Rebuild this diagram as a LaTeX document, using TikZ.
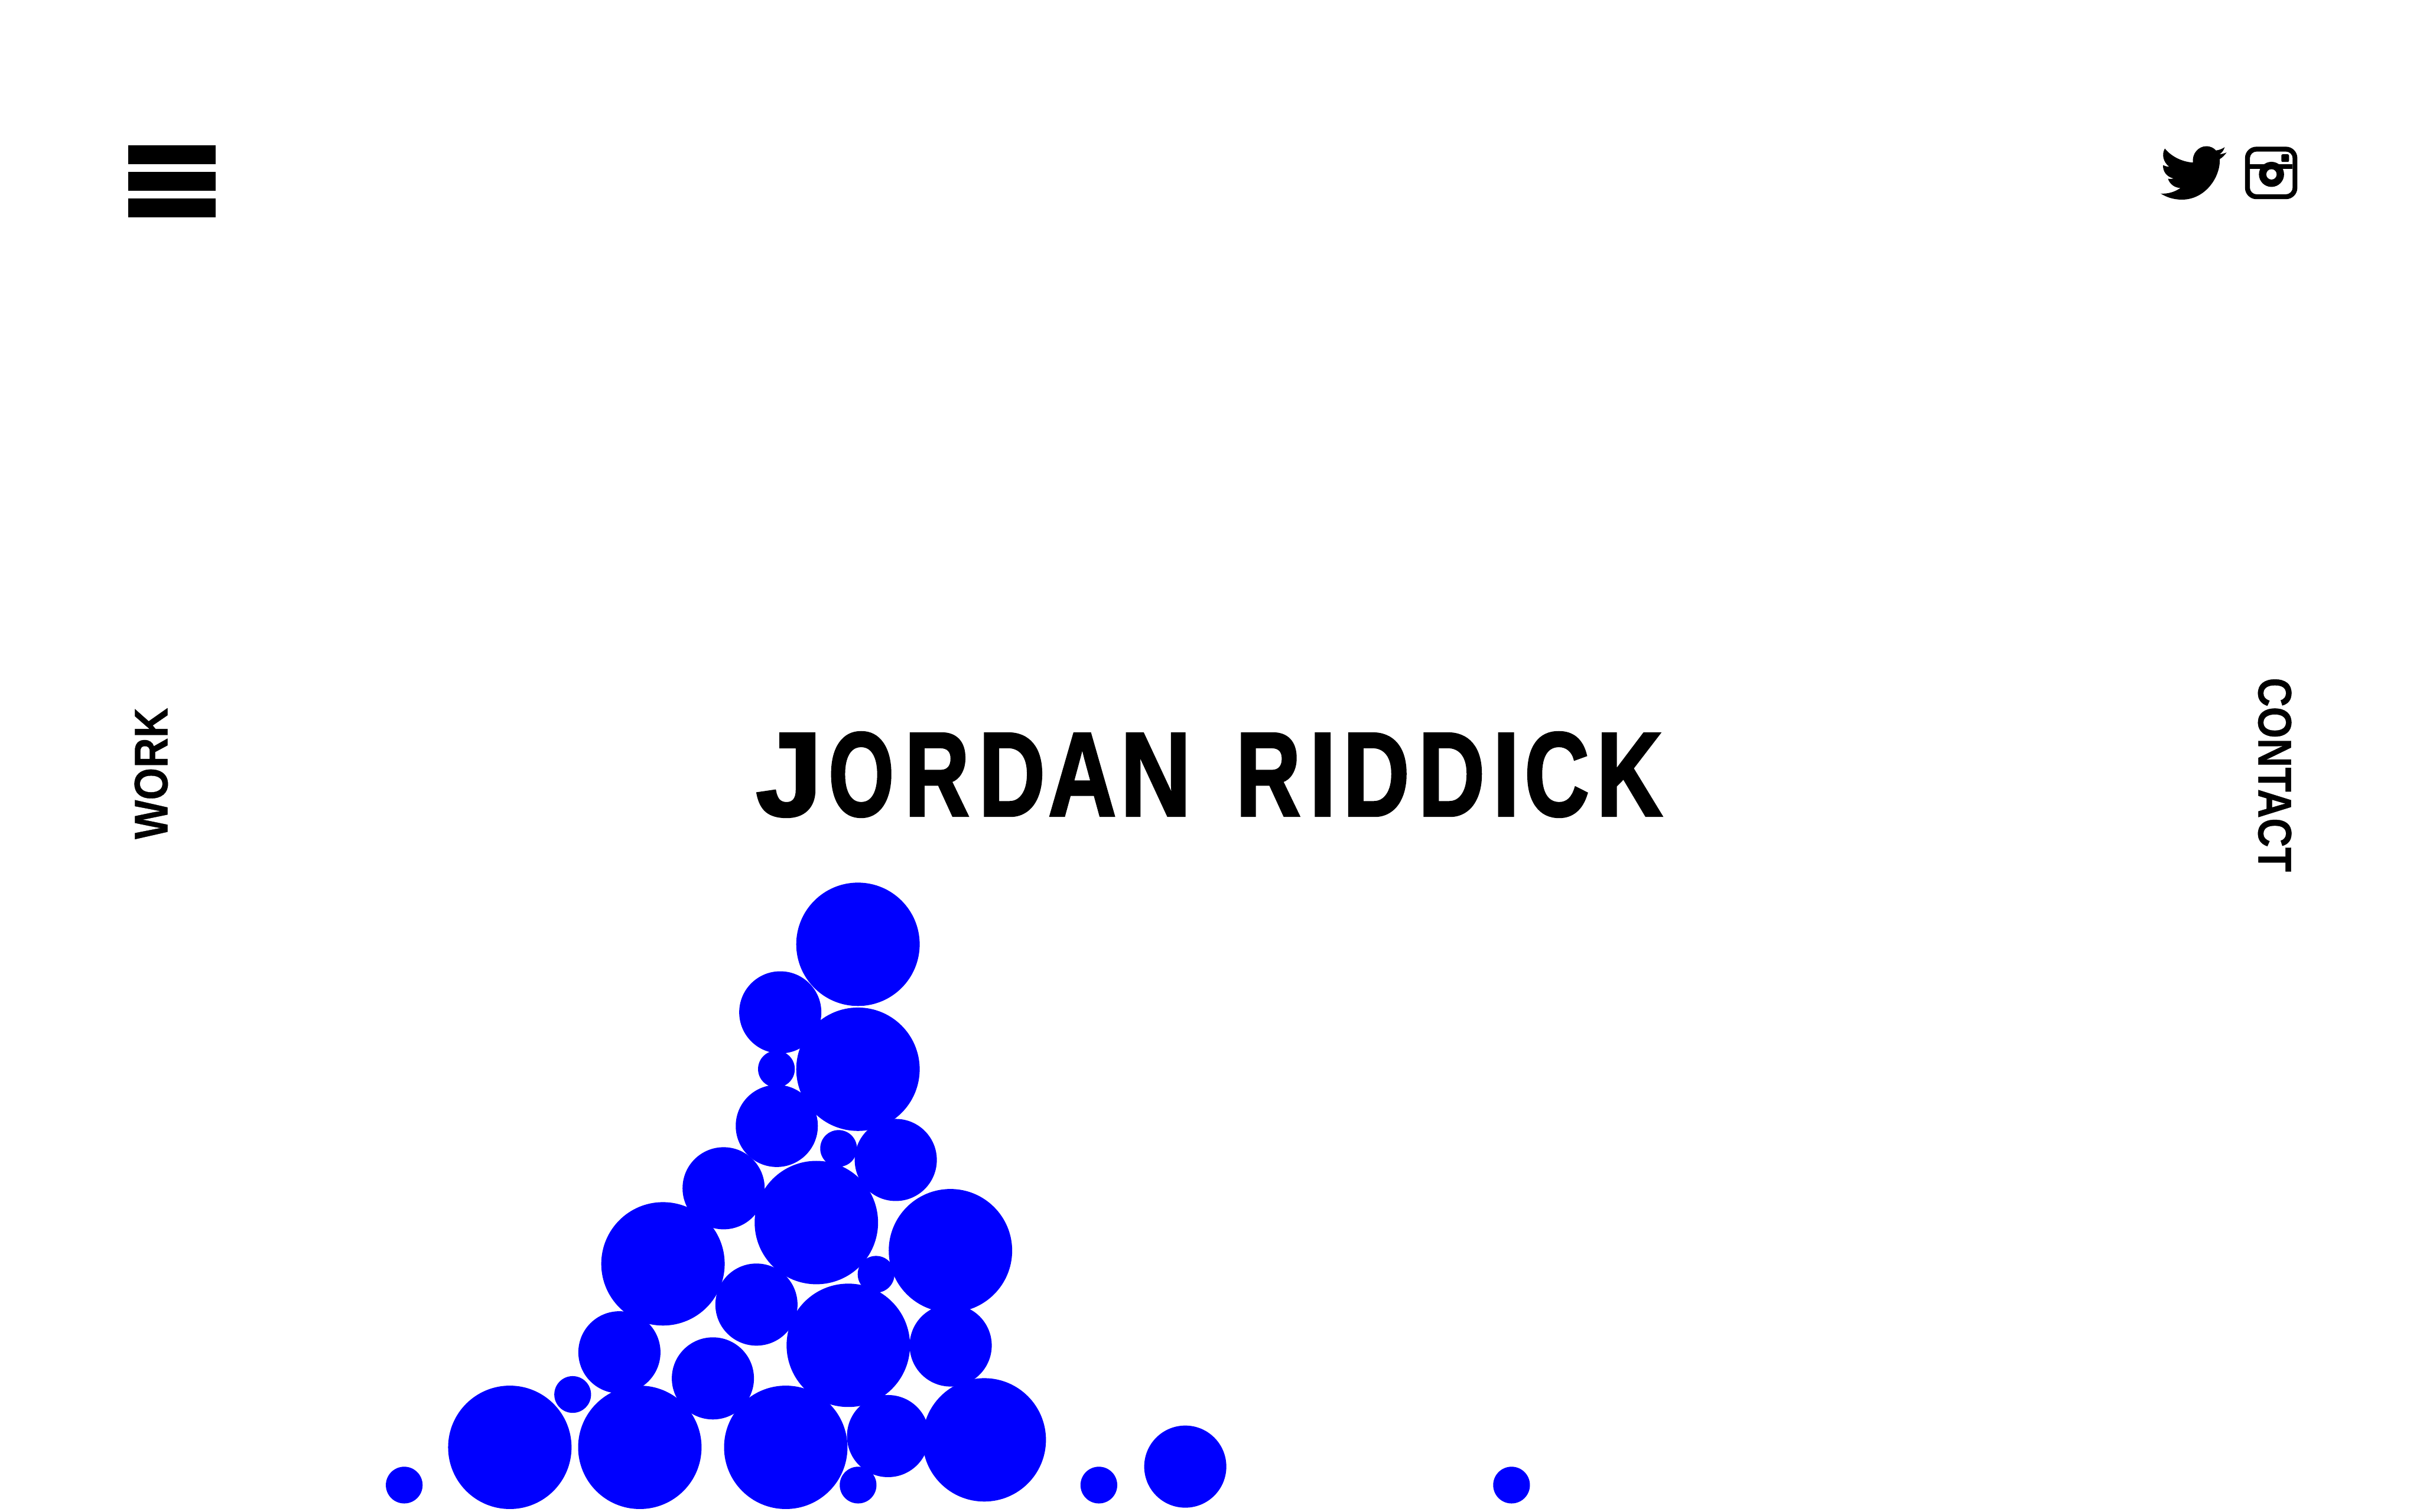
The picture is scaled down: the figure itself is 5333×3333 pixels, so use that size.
\documentclass[tikz,border=0pt]{standalone}
\usepackage{fontspec}
\setmainfont{Liberation Sans}[BoldFeatures={FakeBold=0.5}]
\newfontfamily\titlefont{Liberation Sans}[BoldFeatures={FakeBold=2.2}]
\definecolor{pureblue}{RGB}{0,0,255}
% one title letter: centre in px from the title origin, horizontal scale, glyph
\newcommand\ltr[3]{\rlap{\hskip\dimexpr #1pt/10\relax\makebox[0pt][c]{\scalebox{#2}[1]{#3}}}}
\tikzset{
  blob/.style={fill=pureblue},
  ink/.style={fill=black},
  titletext/.style={inner sep=0pt,outer sep=0pt,anchor=base west,font=\titlefont\bfseries\fontsize{26.3}{30}\selectfont},
  sidetext/.style={inner sep=0pt,outer sep=0pt,anchor=base west,font=\bfseries\fontsize{10.4}{12}\selectfont},
}
\begin{document}
\begin{tikzpicture}[x=0.1pt,y=-0.1pt]
\useasboundingbox (0,0) rectangle (5333,3333);
\fill[white] (0,0) rectangle (5333,3333);
% hamburger
\fill[ink] (283,320) rectangle (475,362);
\fill[ink] (283,379) rectangle (475,421);
\fill[ink] (283,437) rectangle (475,479);
% twitter bird
\begin{scope}[shift={(4720,290)},scale=0.33333]
\fill[ink] (152,112) .. controls (195,165) and (265,200) .. (338,205)
 .. controls (330,145) and (375,97) .. (425,97)
 .. controls (455,97) and (475,108) .. (490,125)
 .. controls (512,122) and (530,115) .. (548,103)
 .. controls (540,125) and (530,140) .. (513,150)
 .. controls (530,148) and (545,145) .. (560,138)
 .. controls (548,155) and (535,170) .. (515,182)
 .. controls (520,300) and (420,450) .. (265,450)
 .. controls (210,450) and (165,435) .. (125,410)
 .. controls (175,413) and (220,398) .. (255,373)
 .. controls (215,372) and (183,345) .. (173,312)
 .. controls (185,314) and (198,314) .. (210,310)
 .. controls (165,300) and (138,265) .. (140,222)
 .. controls (152,228) and (165,232) .. (180,232)
 .. controls (140,200) and (130,150) .. (152,112) -- cycle;
% instagram
\fill[ink,even odd rule] [rounded corners=2.5pt] (682,100) rectangle (1028,447)
  [rounded corners=1.5pt] (714,132) rectangle (997,415);
\fill[ink] (714,216) rectangle (997,247);
\fill[ink] (857,283) circle (83);
\fill[white] (857,283) circle (34);
\fill[ink,rounded corners=0.3pt] (922,150) rectangle (973,201);
\end{scope}
% side labels
\node[sidetext,rotate=90] (work) at (369,1850) {\scalebox{0.88}[1]{WORK}};
\node[sidetext,rotate=-90] (contact) at (4977,1494) {\scalebox{0.855}[1]{CONTACT}};
% title
\node[titletext] (title) at (1667,1798) {\ltr{67}{1.0}{J}\ltr{226}{0.705}{O}\ltr{393}{0.75}{R}\ltr{558}{0.77}{D}\ltr{713}{0.79}{A}\ltr{875}{0.82}{N}\rlap{\ }\ltr{1123}{0.75}{R}\ltr{1243}{0.8}{I}\ltr{1361}{0.77}{D}\ltr{1527}{0.77}{D}\ltr{1647}{0.8}{I}\ltr{1759}{0.75}{C}\ltr{1919}{0.76}{K}\hskip 199.7pt};
% circles
\foreach \cx/\cy/\r in {
 1890.7/2081.6/136, 1890.7/2357/136, 1799/2695/136, 2094.5/2757/136, 1461/2786/136,
 1869.4/2965.6/136, 1123.5/3190.5/136, 1410/3190.5/136, 1731.6/3190.5/136, 2169/3174/136,
 1719.5/2231.6/90.5, 1711.8/2482/90.5, 1974/2557/90.5, 1594.6/2619.4/90.5, 1667/2875.8/90.5,
 2095/2966/90.5, 1365/2981/90.5, 1571/3038.5/90.5, 1957/3165.7/90.5, 2612/3233/90.5,
 1711/2356.6/40.5, 1848/2531.6/40.5, 1930.6/2809/40.5, 1262/3074/40.5, 890.8/3273.7/40.5,
 1891/3273.7/40.5, 2421.6/3273.7/40.5, 3331/3273.7/40.5}
  \fill[blob] (\cx,\cy) circle (\r);
\end{tikzpicture}
\end{document}
